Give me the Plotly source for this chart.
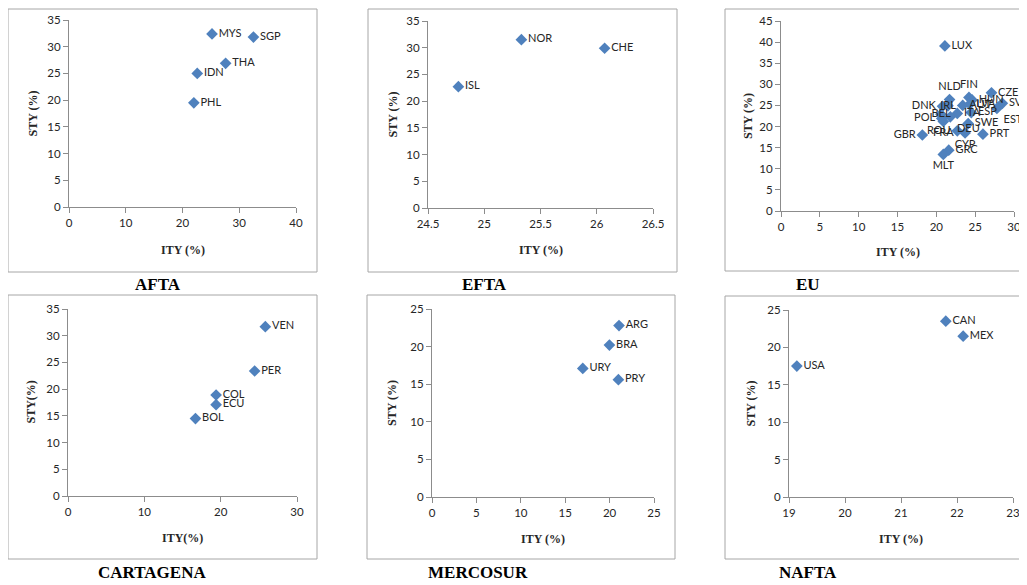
import plotly.graph_objects as go

# ---------------- data ----------------
afta_codes = ["MYS", "SGP", "THA", "IDN", "PHL"]
afta_ity = [25.2, 32.5, 27.6, 22.6, 22.0]
afta_sty = [32.4, 31.8, 26.9, 25.0, 19.5]

efta_codes = ["NOR", "CHE", "ISL"]
efta_ity = [25.33, 26.07, 24.77]
efta_sty = [31.5, 29.9, 22.7]

eu_codes = ["LUX", "CZE", "SVK", "EST", "FIN", "HUN", "NLD", "DNK", "IRL", "AUT", "LVA",
            "ESP", "ITA", "BEL", "POL", "DEU", "FRA", "SWE", "ROU", "CYP", "PRT",
            "GRC", "MLT", "GBR"]
eu_ity = [21.1, 27.1, 28.5, 27.8, 24.2, 24.6, 21.7, 20.8, 21.5, 23.4, 24.3,
          24.5, 22.7, 20.6, 20.7, 21.8, 20.9, 24.1, 22.7, 23.7, 26.0,
          21.6, 20.9, 18.2]
eu_sty = [39.1, 28.0, 25.5, 24.3, 26.9, 26.3, 26.4, 24.8, 24.9, 25.0, 25.3,
          23.3, 23.1, 22.9, 21.9, 22.3, 21.2, 20.7, 19.0, 18.5, 18.2,
          14.4, 13.4, 18.0]

cart_codes = ["VEN", "PER", "COL", "ECU", "BOL"]
cart_ity = [25.85, 24.45, 19.4, 19.4, 16.7]
cart_sty = [31.7, 23.4, 18.9, 17.1, 14.5]

merc_codes = ["ARG", "BRA", "URY", "PRY"]
merc_ity = [21.06, 19.98, 16.98, 20.99]
merc_sty = [22.8, 20.2, 17.1, 15.6]

nafta_codes = ["CAN", "MEX", "USA"]
nafta_ity = [21.80, 22.11, 19.14]
nafta_sty = [23.5, 21.5, 17.5]

# ---------------- styling ----------------
W, H = 1027, 585
OFF = 8  # the page body offsets the figure by 8px; layout below is in window pixels
MARK = "#4F81BD"
SERIF = "Liberation Serif"
SANS = "Lato"
AXC = "#8C8C8C"

eu_textpos = {
    "LUX": "middle right", "CZE": "middle right", "SVK": "middle right", "EST": "bottom right",
    "FIN": "top center", "HUN": "middle right", "NLD": "top center", "DNK": "middle left",
    "IRL": "middle center", "AUT": "middle right", "LVA": "middle right", "ESP": "middle right",
    "ITA": "middle right", "BEL": "middle center", "POL": "middle left", "DEU": "bottom right",
    "FRA": "bottom center", "SWE": "middle right", "ROU": "middle left", "CYP": "bottom center",
    "PRT": "middle right", "GRC": "middle right", "MLT": "bottom center", "GBR": "middle left",
}


def px(x):
    return (x - OFF) / W


def py(y):
    return 1 - (y - OFF) / H


panels = [
    dict(name="AFTA", codes=afta_codes, x=afta_ity, y=afta_sty, area=(69, 296, 20, 207),
         xr=[0, 40], dx=10, yr=[0, 35], dy=5, frame=(8, 317, 9, 272), tpos=(158, 284),
         xt="ITY (%)", yt="STY (%)", xty=250, ytx=32),
    dict(name="EFTA", codes=efta_codes, x=efta_ity, y=efta_sty, area=(428, 653, 21, 208),
         xr=[24.5, 26.5], dx=0.5, yr=[0, 35], dy=5, frame=(368, 677, 9, 272), tpos=(484, 284),
         xt="ITY (%)", yt="STY (%)", xty=250, ytx=392),
    dict(name="EU", codes=eu_codes, x=eu_ity, y=eu_sty, area=(781, 1014, 21, 211),
         xr=[0, 30], dx=5, yr=[0, 45], dy=5, frame=(725, 1040, 9, 271), tpos=(808, 284),
         xt="ITY (%)", yt="STY (%)", xty=252, ytx=748),
    dict(name="CARTAGENA", codes=cart_codes, x=cart_ity, y=cart_sty, area=(68, 297, 309, 496),
         xr=[0, 30], dx=10, yr=[0, 35], dy=5, frame=(8, 317, 295, 559), tpos=(152, 572),
         xt="ITY(%)", yt="STY(%)", xty=538, ytx=30),
    dict(name="MERCOSUR", codes=merc_codes, x=merc_ity, y=merc_sty, area=(432, 654, 309, 497),
         xr=[0, 25], dx=5, yr=[0, 25], dy=5, frame=(367, 675, 295, 559), tpos=(478, 572),
         xt="ITY (%)", yt="STY (%)", xty=539, ytx=392),
    dict(name="NAFTA", codes=nafta_codes, x=nafta_ity, y=nafta_sty, area=(789, 1013, 310, 497),
         xr=[19, 23], dx=1, yr=[0, 25], dy=5, frame=(725, 1040, 296, 559), tpos=(808, 572),
         xt="ITY (%)", yt="STY (%)", xty=539, ytx=750),
]

fig = go.Figure()
shapes = []
annotations = []
layout_axes = {}

for i, p in enumerate(panels, start=1):
    sfx = "" if i == 1 else str(i)
    x0, x1, yt, yb = p["area"]
    if p["name"] == "EU":
        tpos = [eu_textpos[c] for c in p["codes"]]
    else:
        tpos = "middle right"
    fig.add_trace(go.Scatter(
        x=p["x"], y=p["y"], text=p["codes"], mode="markers+text",
        textposition=tpos,
        marker=dict(symbol="diamond", size=9, color=MARK),
        textfont=dict(family=SANS, size=11, color="#262626"),
        xaxis="x" + sfx, yaxis="y" + sfx, showlegend=False, cliponaxis=False,
        hoverinfo="x+y+text",
    ))
    layout_axes["xaxis" + sfx] = dict(
        domain=[px(x0), px(x1)], anchor="y" + sfx, range=p["xr"], dtick=p["dx"], tick0=p["xr"][0],
        showline=True, linecolor=AXC, linewidth=1, ticks="outside", ticklen=5, tickcolor=AXC,
        showgrid=False, zeroline=False, tickfont=dict(family=SANS, size=11.5, color="#262626"),
        fixedrange=True, automargin=False,
    )
    layout_axes["yaxis" + sfx] = dict(
        domain=[py(yb), py(yt)], anchor="x" + sfx, range=p["yr"], dtick=p["dy"], tick0=0,
        showline=True, linecolor=AXC, linewidth=1, ticks="outside", ticklen=5, tickcolor=AXC,
        showgrid=False, zeroline=False, tickfont=dict(family=SANS, size=11.5, color="#262626"),
        fixedrange=True, automargin=False,
    )
    fx0, fx1, fy0, fy1 = p["frame"]
    shapes.append(dict(type="rect", xref="paper", yref="paper",
                       x0=px(fx0), x1=px(fx1), y0=py(fy1), y1=py(fy0),
                       line=dict(color="#A6A6A6", width=1), fillcolor="rgba(0,0,0,0)", layer="below"))
    annotations.append(dict(text="<b>" + p["name"] + "</b>", xref="paper", yref="paper",
                            x=px(p["tpos"][0]), y=py(p["tpos"][1]), showarrow=False,
                            xanchor="center", yanchor="middle",
                            font=dict(family=SERIF, size=17, color="#000000")))
    annotations.append(dict(text="<b>" + p["xt"] + "</b>", xref="paper", yref="paper",
                            x=px((x0 + x1) / 2), y=py(p["xty"]), showarrow=False,
                            xanchor="center", yanchor="middle",
                            font=dict(family=SERIF, size=12, color="#262626")))
    annotations.append(dict(text="<b>" + p["yt"] + "</b>", xref="paper", yref="paper",
                            x=px(p["ytx"]), y=py((yt + yb) / 2), showarrow=False, textangle=-90,
                            xanchor="center", yanchor="middle",
                            font=dict(family=SERIF, size=12, color="#262626")))

fig.update_layout(
    width=W, height=H, autosize=False,
    margin=dict(l=0, r=0, t=0, b=0, pad=0, autoexpand=False),
    paper_bgcolor="white", plot_bgcolor="white",
    shapes=shapes, annotations=annotations, **layout_axes,
)

fig.write_html("out.html")
